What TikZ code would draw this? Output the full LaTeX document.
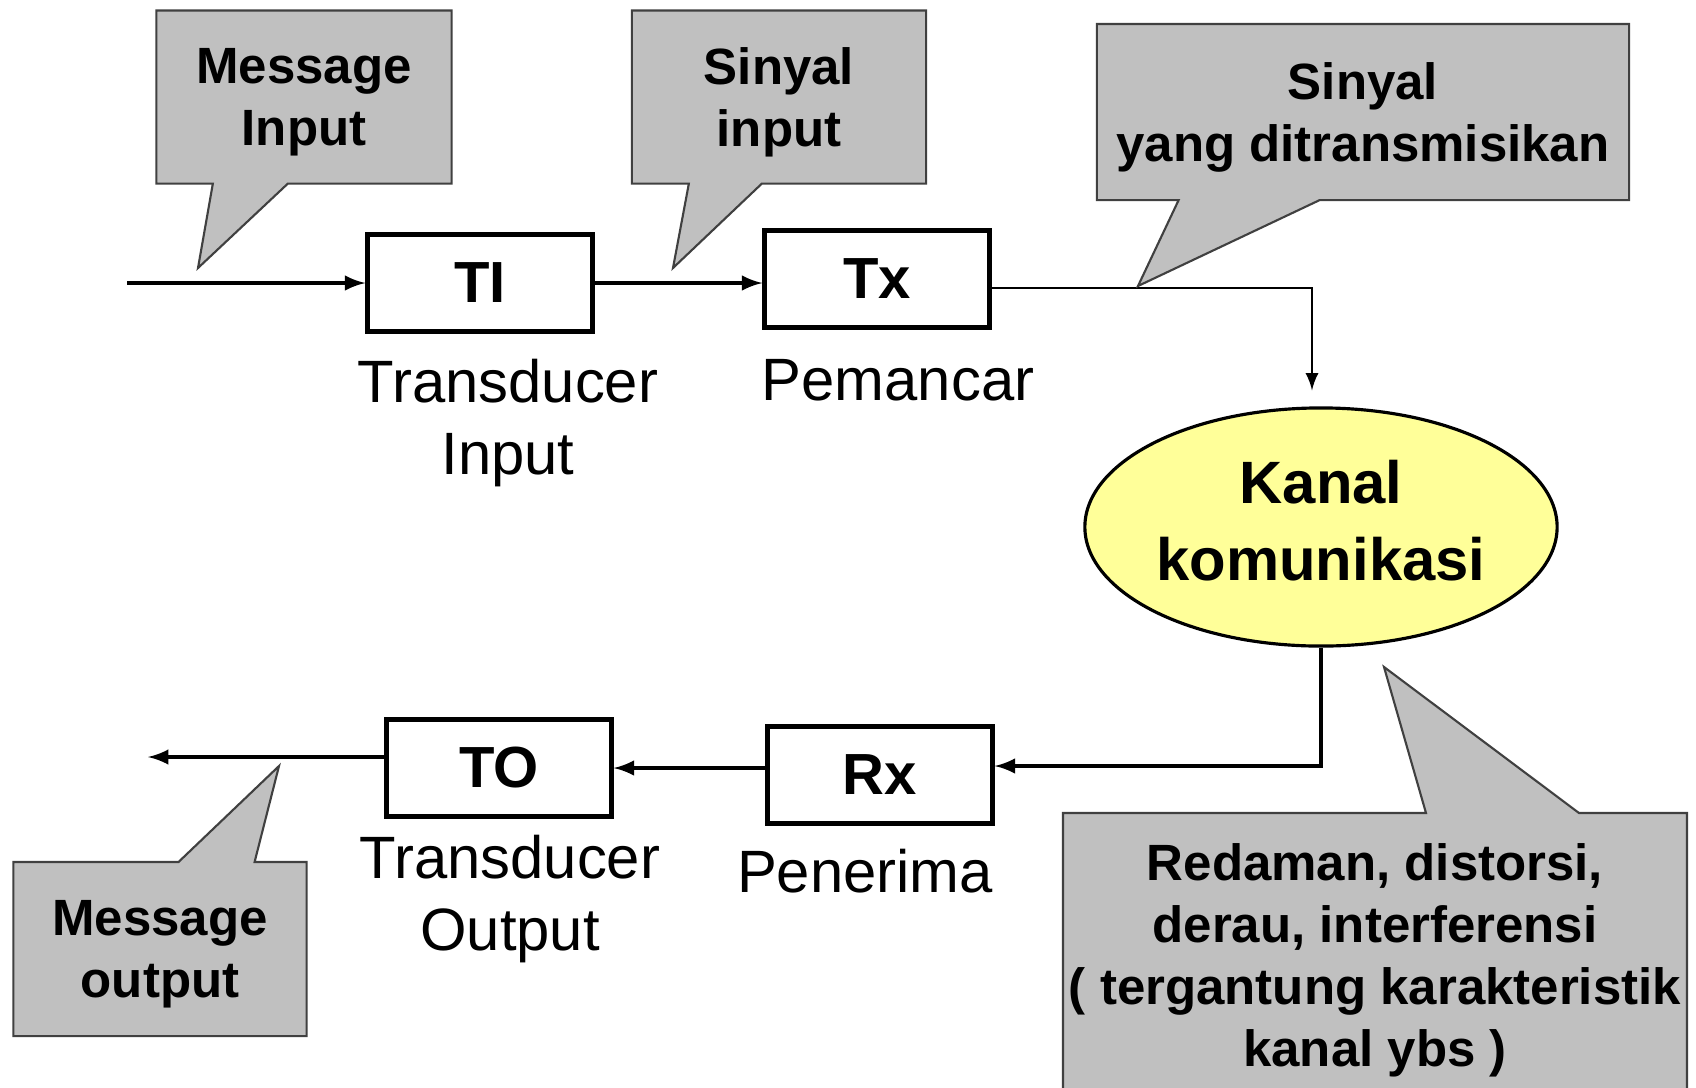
\documentclass[tikz,border=0pt]{standalone}
\usepackage{fontspec}
\setmainfont{Liberation Sans}
\usetikzlibrary{arrows,shapes.geometric,shapes.callouts,positioning}

\definecolor{kanalfill}{HTML}{FFFF99}
\definecolor{notefill}{HTML}{C0C0C0}

\begin{document}
\begin{tikzpicture}[
            x = 0.01cm, y = -0.01cm, % one unit = one pixel of the sketch
            block/.style = {draw, line width=1.2pt, minimum width=2.25cm, minimum height=0.97cm,
                            font=\fontsize{16.5}{20}\selectfont\bfseries},
            caption/.style = {align=center, inner sep=0pt, font=\fontsize{17}{20.5}\selectfont},
            note/.style = {rectangle callout, draw=black!75, fill=notefill, line width=0.6pt,
                           align=center, text depth=-1pt, font=\fontsize{14.5}{17.8}\selectfont\bfseries},
            link/.style = {-latex, line width=1pt}
        ]
	\useasboundingbox (0,0) rectangle (1696,1087);

	% blocks
	\node[block] (TI) at (480,283) {TI};
	\node[block] (Tx) at (877,279) {Tx};
	\node[block] (Rx) at (880,775) {Rx};
	\node[block] (TO) at (499,768) {TO};
	\node[draw, ellipse, fill=kanalfill, line width=0.9pt, inner sep=0pt, text depth=3.7pt,
	      minimum width=4.72cm, minimum height=2.38cm,
	      align=center, font=\fontsize{17}{22}\selectfont\bfseries] (kanal) at (1321,527) {Kanal\\komunikasi};

	% captions under the blocks
	\node[caption, below=0.25cm of TI, xshift=0.28cm] (TIcap) {Transducer\\Input};
	\node[caption, below=0.29cm of Tx, xshift=0.21cm] (Txcap) {Pemancar};
	\node[caption, below=0.16cm of TO, xshift=0.11cm] (TOcap) {Transducer\\Output};
	\node[caption, below=0.23cm of Rx, xshift=-0.15cm] (Rxcap) {Penerima};

	% free ends
	\coordinate (src) at (127,283);
	\coordinate (sink) at (148,757);

	% connectors
	\draw[link] (src) -- (TI.west);
	\draw[link] (TI.east) -- (TI.east -| Tx.west);
	\draw[-latex, line width=0.7pt, shorten >=0.16cm] ([yshift=-0.09cm]Tx.east) -| ([xshift=-0.09cm]kanal.north);
	\draw[link] (kanal.south) |- ([yshift=0.09cm]Rx.east);
	\draw[link] (Rx.west |- TO) -- (TO.east);
	\draw[link] (TO.west |- sink) -- (sink);

	% callouts
	\coordinate (msgintip) at (198,268);
	\coordinate (sigintip) at (673,268);
	\coordinate (sigtxtip) at (1138,286);
	\coordinate (msgouttip) at (279,766);
	\coordinate (noisetip) at (1384,667);

	\node[note, callout absolute pointer={(msgintip)}, callout pointer width=0.75cm,
	      minimum width=2.95cm, minimum height=1.73cm] (msgin) at (304,97) {Message\\Input};
	\node[note, callout absolute pointer={(sigintip)}, callout pointer width=0.73cm,
	      minimum width=2.94cm, minimum height=1.73cm] (sigin) at (779,97) {Sinyal\\input};
	\node[note, callout absolute pointer={(sigtxtip)}, callout pointer width=1.41cm,
	      minimum width=5.32cm, minimum height=1.76cm] (sigtx) at (1363,112) {Sinyal\\yang ditransmisikan};
	\node[note, callout absolute pointer={(msgouttip)}, callout pointer width=0.76cm,
	      minimum width=2.93cm, minimum height=1.74cm] (msgout) at (160,949) {Message\\output};

	% the noise note runs off the bottom edge
	\draw[draw=black!75, fill=notefill, line width=0.6pt] (1063,813) -- (1426,813) -- (noisetip) -- (1579,813)
	      -- (1687,813) -- (1687,1110) -- (1063,1110) -- cycle;
	\node[align=center, font=\fontsize{14.5}{17.6}\selectfont\bfseries] (noise) at (1375,960)
	      {Redaman, distorsi,\\derau, interferensi\\( tergantung karakteristik\\kanal ybs )};
\end{tikzpicture}
\end{document}
